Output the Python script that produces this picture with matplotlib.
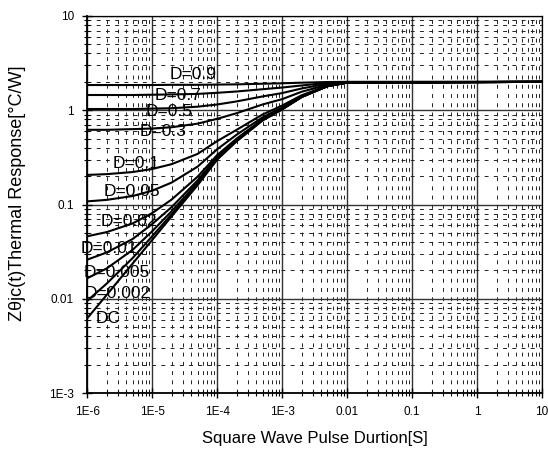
import matplotlib
matplotlib.use('Agg')
import matplotlib.pyplot as plt
from matplotlib.ticker import LogLocator, FixedFormatter, FixedLocator, NullFormatter

plt.rcParams['font.family'] = ['Liberation Sans', 'DejaVu Sans']

# pulse width [s]
t = [1e-6, 2e-6, 5e-6, 1e-5, 2e-5, 5e-5, 1e-4, 2e-4, 5e-4, 1e-3, 2e-3, 5e-3, 1e-2, 10]

# thermal response [C/W] for each duty cycle
z_09 = [1.85, 1.85, 1.85, 1.85, 1.86, 1.86, 1.87, 1.88, 1.91, 1.93, 1.96, 1.99, 2.0, 2.0]
z_07 = [1.45, 1.45, 1.45, 1.46, 1.47, 1.49, 1.53, 1.58, 1.67, 1.74, 1.83, 1.95, 1.99, 2.0]
z_05 = [1.03, 1.03, 1.03, 1.04, 1.05, 1.09, 1.15, 1.24, 1.40, 1.52, 1.70, 1.91, 1.98, 2.0]
z_03 = [0.62, 0.62, 0.63, 0.64, 0.66, 0.72, 0.81, 0.93, 1.15, 1.31, 1.57, 1.86, 1.97, 2.0]
z_01 = [0.206, 0.21, 0.221, 0.238, 0.268, 0.344, 0.47, 0.62, 0.90, 1.12, 1.44, 1.82, 1.96, 2.0]
z_005 = [0.108, 0.112, 0.123, 0.14, 0.171, 0.252, 0.385, 0.55, 0.84, 1.07, 1.41, 1.81, 1.96, 2.0]
z_002 = [0.046, 0.051, 0.063, 0.081, 0.113, 0.197, 0.334, 0.50, 0.80, 1.04, 1.39, 1.80, 1.96, 2.0]
z_001 = [0.026, 0.031, 0.043, 0.062, 0.094, 0.18, 0.32, 0.49, 0.79, 1.03, 1.39, 1.80, 1.96, 2.0]
z_0005 = [0.0165, 0.021, 0.033, 0.052, 0.085, 0.17, 0.31, 0.48, 0.79, 1.03, 1.38, 1.80, 1.96, 2.0]
z_0002 = [0.0095, 0.0145, 0.027, 0.046, 0.079, 0.164, 0.30, 0.47, 0.78, 1.02, 1.38, 1.80, 1.96, 2.0]
z_dc = [0.0062, 0.011, 0.0236, 0.042, 0.075, 0.16, 0.30, 0.47, 0.78, 1.02, 1.38, 1.80, 1.96, 2.0]

curves = [z_09, z_07, z_05, z_03, z_01, z_005, z_002, z_001, z_0005, z_0002, z_dc]
labels = ['D=0.9', 'D=0.7', 'D=0.5', 'D=0.3', 'D=0.1', 'D=0.05', 'D=0.02',
          'D=0.01', 'D=0.005', 'D=0.002', 'DC']
# where each label sits (x, y in data units)
label_pos = [(4.3e-5, 2.37), (2.5e-5, 1.45), (1.83e-5, 0.958), (1.48e-5, 0.60),
             (5.7e-6, 0.275), (4.9e-6, 0.139), (4.4e-6, 0.0668), (2.2e-6, 0.0345),
             (2.9e-6, 0.0192), (3.0e-6, 0.0115), (2.1e-6, 0.00625)]

x_ticks = [1e-6, 1e-5, 1e-4, 1e-3, 1e-2, 1e-1, 1, 10]
x_ticklabels = ['1E-6', '1E-5', '1E-4', '1E-3', '0.01', '0.1', '1', '10']
y_ticks = [1e-3, 1e-2, 1e-1, 1, 10]
y_ticklabels = ['1E-3', '0.01', '0.1', '1', '10']

fig = plt.figure(figsize=(5.48, 4.55), dpi=100)
ax = fig.add_axes([0.159, 0.136, 0.83, 0.829])

for z in curves:
    ax.plot(t, z, color='black', lw=1.5, zorder=3)

for (lx, ly), lab in zip(label_pos, labels):
    ax.text(lx, ly, lab, ha='center', va='center', fontsize=12.5, color='black', zorder=4)

ax.set_xscale('log')
ax.set_yscale('log')
ax.set_xlim(1e-6, 10)
ax.set_ylim(1e-3, 10)

ax.xaxis.set_major_locator(FixedLocator(x_ticks))
ax.xaxis.set_major_formatter(FixedFormatter(x_ticklabels))
ax.yaxis.set_major_locator(FixedLocator(y_ticks))
ax.yaxis.set_major_formatter(FixedFormatter(y_ticklabels))
ax.xaxis.set_minor_locator(LogLocator(base=10, subs=range(2, 10), numticks=20))
ax.yaxis.set_minor_locator(LogLocator(base=10, subs=range(2, 10), numticks=20))
ax.xaxis.set_minor_formatter(NullFormatter())
ax.yaxis.set_minor_formatter(NullFormatter())

ax.grid(which='major', color='#333333', lw=1.0, ls='-')
ax.grid(which='minor', color='#222222', lw=0.7, ls=(0, (4, 5.5)))
ax.set_axisbelow(True)

ax.tick_params(which='major', direction='inout', length=7, width=1, labelsize=8.5, pad=6)
ax.tick_params(which='minor', direction='inout', length=5, width=0.8)

for s in ['top', 'right']:
    ax.spines[s].set_linewidth(0.9)
for s in ['left', 'bottom']:
    ax.spines[s].set_linewidth(1.3)

ax.set_xlabel('Square Wave Pulse Durtion[S]', fontsize=12, labelpad=9)
ax.set_ylabel('Z\u03b8jc(t)Thermal Response[°C/W]', fontsize=13)
ax.yaxis.set_label_coords(-0.135, 0.53)

fig.savefig('out.png', dpi=100)
